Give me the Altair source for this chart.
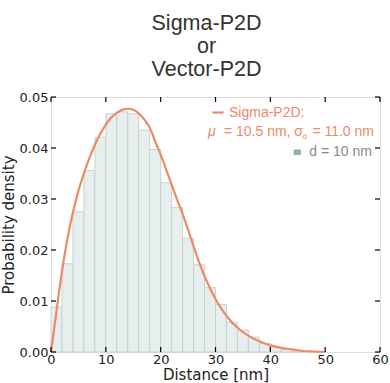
import altair as alt
import pandas as pd

# ---- data ----
bin_start = [0, 2, 4, 6, 8, 10, 12, 14, 16, 18, 20, 22, 24, 26, 28, 30, 32, 34, 36, 38, 40, 42, 44]
bin_density = [0.0088, 0.0173, 0.0275, 0.0356, 0.0421, 0.0467, 0.0471, 0.0467, 0.0435, 0.0397,
               0.0332, 0.0283, 0.0223, 0.0171, 0.0126, 0.0093, 0.0058, 0.0043, 0.0029, 0.0017,
               0.0010, 0.0005, 0.0002]
bin_width = 2

curve_x = [0, 1, 2, 3, 4, 5, 6, 7, 8, 9, 10, 11, 12, 13, 14, 15, 16, 17, 18, 19, 20,
           21, 22, 23, 24, 25, 26, 27, 28, 29, 30, 31, 32, 33, 34, 35, 36, 37, 38, 40,
           42, 44, 46, 48, 50]
curve_y = [0.0, 0.0080, 0.0158, 0.0222, 0.0274, 0.0316, 0.0350, 0.0380, 0.0406, 0.0428,
           0.0446, 0.0460, 0.0469, 0.0475, 0.0477, 0.0475, 0.0468, 0.0456, 0.0440, 0.0413,
           0.0387, 0.0358, 0.0328, 0.0299, 0.0271, 0.0240, 0.0207, 0.0176, 0.0149, 0.0125,
           0.0104, 0.0086, 0.0071, 0.0058, 0.0048, 0.0039, 0.0032, 0.0026, 0.0021, 0.0013,
           0.0008, 0.0005, 0.0002, 0.0001, 0.0]

x_ticks = [0, 10, 20, 30, 40, 50, 60]
y_ticks = [0.00, 0.01, 0.02, 0.03, 0.04, 0.05]

title_lines = "Sigma-P2D\nor\nVector-P2D"
legend_line1 = "Sigma-P2D:"
legend_mu = "μ"
legend_mid = " = 10.5 nm, σ"
legend_sub = "d"
legend_end = " = 11.0 nm"
legend_hist = "d = 10 nm"

W, H = 329, 255
ORANGE = "#ec8a68"
AXFONT = "DejaVu Sans"
LFONT = "Liberation Sans"

hist_df = pd.DataFrame({
    "start": bin_start,
    "end": [s + bin_width for s in bin_start],
    "density": bin_density,
})
curve_df = pd.DataFrame({"x": curve_x, "y": curve_y})
xt_df = pd.DataFrame({"t": x_ticks})
yt_df = pd.DataFrame({"t": y_ticks})

xscale = alt.Scale(domain=[0, 60], nice=False, zero=False)
yscale = alt.Scale(domain=[0, 0.05], nice=False)

xaxis = alt.Axis(values=x_ticks, format="d", grid=False, domain=False, ticks=False,
                 labelFlush=False,
                 labelFont=AXFONT, labelFontSize=13, labelColor="#222", labelPadding=1,
                 title="Distance [nm]", titleFont=AXFONT, titleFontSize=15,
                 titleFontWeight="normal", titleColor="#222",
                 titleBaseline="alphabetic", titleY=27.5)
yaxis = alt.Axis(values=y_ticks, format=".2f", grid=False, domain=False, ticks=False,
                 labelFlush=False,
                 labelFont=AXFONT, labelFontSize=13, labelColor="#222", labelPadding=3,
                 title="Probability density", titleFont=AXFONT, titleFontSize=15,
                 titleFontWeight="normal", titleColor="#222", titlePadding=3)

bars = alt.Chart(hist_df).mark_rect(fill="#e7eeee", stroke="#c4cece", strokeWidth=0.9).encode(
    x=alt.X("start:Q", scale=xscale, axis=xaxis),
    x2="end:Q",
    y=alt.Y("density:Q", scale=yscale, axis=yaxis),
    y2=alt.datum(0),
)

line = alt.Chart(curve_df).mark_line(color=ORANGE, strokeWidth=2.2, interpolate="monotone").encode(
    x=alt.X("x:Q", scale=xscale),
    y=alt.Y("y:Q", scale=yscale),
)

TL = 5
tick_style = dict(color="black", strokeWidth=1.2)
xt_bottom = alt.Chart(xt_df).mark_rule(**tick_style).encode(
    x=alt.X("t:Q", scale=xscale), y=alt.value(H), y2=alt.value(H - TL))
xt_top = alt.Chart(xt_df).mark_rule(**tick_style).encode(
    x=alt.X("t:Q", scale=xscale), y=alt.value(0), y2=alt.value(TL))
yt_left = alt.Chart(yt_df).mark_rule(**tick_style).encode(
    y=alt.Y("t:Q", scale=yscale), x=alt.value(0), x2=alt.value(TL))
yt_right = alt.Chart(yt_df).mark_rule(**tick_style).encode(
    y=alt.Y("t:Q", scale=yscale), x=alt.value(W), x2=alt.value(W - TL))

title = alt.Chart(pd.DataFrame({"t": [title_lines]})).mark_text(
    font=LFONT, fontSize=21.5, lineHeight=23, color="#333333", align="center",
    baseline="alphabetic", lineBreak="\n").encode(
    text="t:N", x=alt.value(155.5), y=alt.value(-67))

def txt(s, x, y, size=14, color=ORANGE, align="left", style="normal"):
    return alt.Chart(pd.DataFrame({"t": [s]})).mark_text(
        font=LFONT, fontSize=size, color=color, align=align, baseline="alphabetic",
        fontStyle=style).encode(text="t:N", x=alt.value(x), y=alt.value(y))

leg_sym = alt.Chart(pd.DataFrame({"a": [0]})).mark_rule(color=ORANGE, strokeWidth=2.2).encode(
    x=alt.value(161.5), x2=alt.value(172.5), y=alt.value(15.5))
leg_box = alt.Chart(pd.DataFrame({"a": [0]})).mark_rect(
    fill="#86b8b6", stroke="#5f9795", strokeWidth=0.6).encode(
    x=alt.value(243), x2=alt.value(249.5), y=alt.value(53), y2=alt.value(57.5))

legend = (leg_sym
          + txt(legend_line1, 178, 20)
          + txt(legend_mu, 157, 39, style="italic")
          + txt(legend_mid, 252, 39, align="right")
          + txt(legend_sub, 251.5, 42, size=8)
          + txt(legend_end, 323, 39, align="right")
          + leg_box
          + txt(legend_hist, 321, 59, color="#8a8a8a", align="right"))

chart = alt.layer(bars, line, xt_bottom, xt_top, yt_left, yt_right, title, legend).properties(
    width=W, height=H,
    autosize=alt.AutoSizeParams(type="none"),
    padding={"left": 51, "top": 97, "right": 10, "bottom": 31},
).configure_view(stroke="black", strokeWidth=2).configure(background="white")

chart.save("out.html", embed_options={"renderer": "svg", "actions": False})
